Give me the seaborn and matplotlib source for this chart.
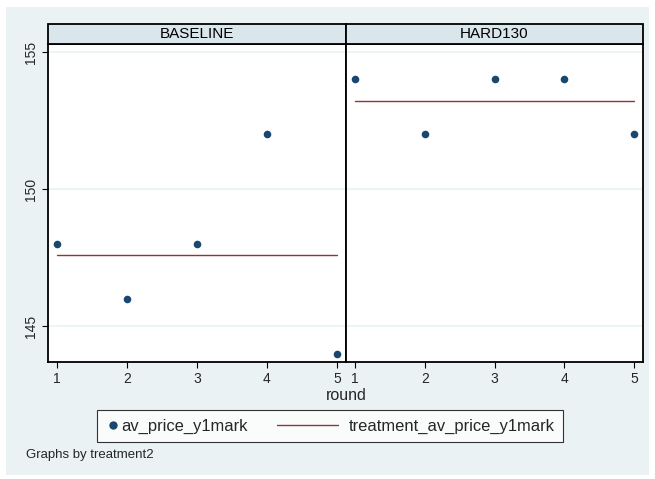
import numpy as np
import pandas as pd
import matplotlib
matplotlib.use("Agg")
import matplotlib.pyplot as plt
import seaborn as sns
from matplotlib.patches import Rectangle
from matplotlib.lines import Line2D
from matplotlib.legend_handler import HandlerLine2D

# data
rounds = [1, 2, 3, 4, 5]
groups = ["BASELINE", "HARD130"]
baseline_price = [148, 146, 148, 152, 144]
hard130_price = [154, 152, 154, 154, 152]
treatment_avg = [147.6, 153.2]

df = pd.DataFrame({
    "round": rounds * 2,
    "treatment2": [groups[0]] * 5 + [groups[1]] * 5,
    "av_price_y1mark": baseline_price + hard130_price,
    "treatment_av_price_y1mark": [treatment_avg[0]] * 5 + [treatment_avg[1]] * 5,
})

sns.set_theme(style="white")
plt.rcParams['font.family'] = ['Liberation Sans', 'DejaVu Sans']

bg = "#eaf2f3"
strip_col = "#d9e6eb"
navy = "#1a476f"
maroon = "#90353b"


# stata puts the marker at the left of its key and a long line for the other key
class MarkerKey(HandlerLine2D):
    def get_xdata(self, legend, xdescent, ydescent, width, height, fontsize):
        xd = np.array([-xdescent, -xdescent + width])
        return xd, np.array([-xdescent + 0.17 * width])


class LineKey(HandlerLine2D):
    def get_xdata(self, legend, xdescent, ydescent, width, height, fontsize):
        xd = np.array([-xdescent - 3.37 * width, -xdescent + 0.33 * width])
        return xd, xd


fig = plt.figure(figsize=(6.55, 4.79), dpi=100)
fig.patch.set_facecolor("white")
fig.patches.append(Rectangle((6/655, 4/479), 1 - 12/655, 1 - 11/479, transform=fig.transFigure,
                             facecolor=bg, edgecolor="none", zorder=-10))

W, H = 655, 479
x0, xm, x1 = 48, 346, 643
ytop, ybot = 44, 362
ax1 = fig.add_axes([x0 / W, 1 - ybot / H, (xm - x0) / W, (ybot - ytop) / H])
ax2 = fig.add_axes([xm / W, 1 - ybot / H, (x1 - xm) / W, (ybot - ytop) / H], sharey=ax1)

for ax, g in zip([ax1, ax2], groups):
    sub = df[df["treatment2"] == g]
    ax.set_facecolor("white")
    for yv in [145, 150, 155]:
        ax.axhline(yv, color=bg, lw=1.2, zorder=0)
    sns.lineplot(data=sub, x="round", y="treatment_av_price_y1mark", ax=ax,
                 color=maroon, lw=1.0, zorder=2)
    sns.scatterplot(data=sub, x="round", y="av_price_y1mark", ax=ax,
                    color=navy, s=30, linewidth=0, zorder=3)
    ax.set_xlim(0.87, 5.13)
    ax.set_ylim(143.69, 155.29)
    ax.set_xticks(rounds)
    ax.set_xlabel("")
    ax.set_ylabel("")
    ax.tick_params(axis="x", length=4, width=0.8, color="black", labelsize=10, pad=3, bottom=True)
    for s in ax.spines.values():
        s.set_color("black")
        s.set_linewidth(1.3)
    # strip header
    ax.add_patch(Rectangle((0, 1), 1, 20 / 318, transform=ax.transAxes, clip_on=False,
                           facecolor=strip_col, edgecolor="black", lw=1.3, zorder=5))
    ax.text(0.5, 1 + 10 / 318, g, transform=ax.transAxes, ha="center", va="center",
            fontsize=11, color="black", zorder=6)

ax1.set_yticks([145, 150, 155])
ax1.tick_params(axis="y", length=4, width=0.8, color="black", labelsize=10, pad=3, left=True)
for lbl in ax1.get_yticklabels():
    lbl.set_rotation(90)
    lbl.set_va("center")
ax2.tick_params(axis="y", left=False, labelleft=False)

fig.text(346 / W, 1 - 396 / H, "round", ha="center", va="center", fontsize=11.5)

h_pt = Line2D([], [], marker="o", ls="none", color=navy, markersize=6, markeredgewidth=0)
h_ln = Line2D([], [], color=maroon, lw=1.0)
leg = fig.legend([h_pt, h_ln], ["av_price_y1mark", "treatment_av_price_y1mark"],
                 handler_map={h_pt: MarkerKey(numpoints=1), h_ln: LineKey()},
                 loc="center", bbox_to_anchor=(330 / W, 1 - 426 / H), ncol=2,
                 fontsize=11.85, frameon=True, fancybox=False, handlelength=1.0,
                 columnspacing=5.15, borderpad=0.5, handletextpad=0.0)
leg.get_frame().set_edgecolor("black")
leg.get_frame().set_linewidth(0.8)
leg.get_frame().set_facecolor("white")

fig.text(26 / W, 1 - 455 / H, "Graphs by treatment2", ha="left", va="center", fontsize=9.5)

fig.savefig("out.png", dpi=100)
